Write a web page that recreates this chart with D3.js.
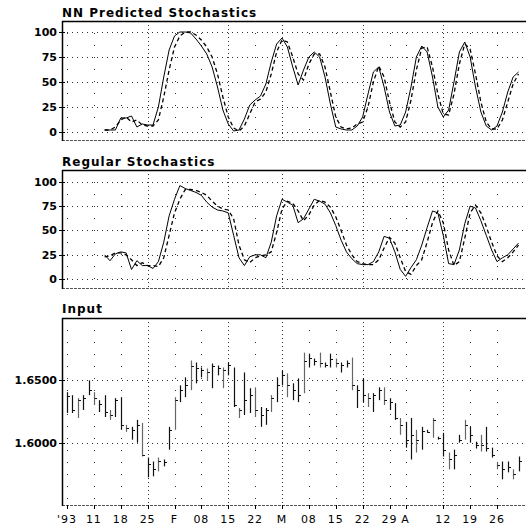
<!DOCTYPE html>
<html>
<head>
<meta charset="utf-8">
<title>NN Predicted Stochastics</title>
<style>
body { margin: 0; background: #fff; }
text { font-family: "DejaVu Sans", sans-serif; fill: #000; }
.title { font-size: 12px; font-weight: bold; letter-spacing: 1px; }
.ylab { font-size: 11px; font-weight: bold; }
.xlab { font-size: 11px; letter-spacing: 1px; }
.grid line { stroke: #333; stroke-width: 1; }
</style>
</head>
<body>
<svg width="526" height="527"></svg>
<script src="https://d3js.org/d3.v7.min.js"></script>
<script>

// trading day index, 0 = Mon 4 Jan 1993
var tickDays   = [0, 5, 10, 15, 20, 25, 30, 35, 40, 45, 50, 55, 60, 63, 70, 75, 80];
var tickLabels = ["'93", "11", "18", "25", "F", "08", "15", "22", "M", "08", "15", "22", "29", "A", "12", "19", "26"];
var majorDays  = [15, 30, 40, 55, 70];

var stochTicks = [0, 25, 50, 75, 100];
var priceTicks = [1.60, 1.65];

// stochastic series start at day 7
var stochStart = 7;
var nnActual = [2, 2, 2, 14, 14, 16, 5, 8, 7, 7, 25, 55, 82, 96, 100, 100, 99, 93, 86, 78,
  65, 45, 22, 8, 1, 2, 13, 27, 32, 36, 48, 70, 88, 94, 85, 65, 47, 62, 75, 80,
  75, 55, 28, 5, 3, 2, 2, 6, 15, 38, 60, 65, 45, 20, 6, 7, 20, 45, 75, 86,
  80, 55, 25, 15, 22, 50, 80, 90, 75, 45, 20, 6, 2, 6, 20, 40, 55, 60];
var nnPredicted = [2, 2, 5, 12, 15, 10, 12, 7, 6, 6, 12, 35, 62, 85, 96, 100, 100, 97, 92, 85,
  75, 58, 35, 15, 4, 1, 6, 18, 30, 33, 40, 58, 80, 92, 90, 75, 58, 52, 68, 78,
  78, 65, 40, 15, 5, 3, 4, 8, 10, 25, 50, 66, 55, 30, 10, 5, 10, 32, 62, 84,
  85, 65, 38, 18, 17, 38, 68, 88, 83, 58, 30, 10, 3, 3, 12, 30, 48, 58];
var regSolid = [25, 19, 26, 28, 27, 10, 19, 14, 14, 11, 18, 38, 65, 82, 96, 93, 91, 89, 86, 79,
  74, 71, 70, 68, 45, 22, 14, 23, 25, 25, 22, 38, 65, 82, 79, 76, 58, 62, 72, 82,
  80, 77, 68, 55, 40, 28, 21, 16, 15, 15, 18, 28, 44, 42, 28, 10, 3, 12, 20, 35,
  53, 70, 68, 45, 16, 15, 30, 57, 75, 73, 60, 45, 30, 18, 22, 25, 31, 37];
var regDashed = [23, 24, 27, 27, 25, 20, 14, 17, 14, 14, 13, 22, 45, 68, 82, 92, 92, 91, 89, 86,
  80, 75, 72, 71, 62, 35, 20, 17, 22, 24, 25, 28, 48, 72, 80, 78, 70, 60, 66, 76,
  81, 79, 74, 64, 50, 35, 25, 18, 16, 15, 15, 20, 32, 43, 37, 22, 8, 5, 14, 20,
  38, 58, 70, 58, 30, 14, 18, 42, 68, 76, 68, 54, 38, 24, 18, 22, 28, 35];

// daily bars from day 0
var highs = [1.6405, 1.6381, 1.6357, 1.6381, 1.6500, 1.6405, 1.6341, 1.6381, 1.6262, 1.6357,
  1.6365, 1.6143, 1.6127, 1.6183, 1.6159, 1.5881, 1.5849, 1.5881, 1.5865, 1.6127,
  1.6365, 1.6460, 1.6524, 1.6659, 1.6643, 1.6603, 1.6595, 1.6635, 1.6619, 1.6603,
  1.6643, 1.6603, 1.6278, 1.6563, 1.6437, 1.6444, 1.6286, 1.6278, 1.6381, 1.6524,
  1.6579, 1.6556, 1.6476, 1.6516, 1.6722, 1.6714, 1.6675, 1.6722, 1.6643, 1.6714,
  1.6675, 1.6643, 1.6659, 1.6683, 1.6460, 1.6516, 1.6397, 1.6397, 1.6444, 1.6444,
  1.6357, 1.6317, 1.6198, 1.6167, 1.6198, 1.6103, 1.6127, 1.6103, 1.6198, 1.6048,
  1.6079, 1.5921, 1.5944, 1.6063, 1.6183, 1.6127, 1.6008, 1.6063, 1.6127, 1.5960,
  1.5841, 1.5849, 1.5849, 1.5786, 1.5889];
var lows = [1.6238, 1.6238, 1.6198, 1.6262, 1.6381, 1.6302, 1.6246, 1.6206, 1.6183, 1.6206,
  1.6103, 1.6087, 1.6024, 1.6000, 1.5889, 1.5722, 1.5730, 1.5770, 1.5810, 1.5944,
  1.6103, 1.6325, 1.6365, 1.6421, 1.6476, 1.6524, 1.6500, 1.6437, 1.6540, 1.6437,
  1.6540, 1.6286, 1.6198, 1.6222, 1.6238, 1.6206, 1.6127, 1.6143, 1.6246, 1.6325,
  1.6460, 1.6365, 1.6341, 1.6325, 1.6397, 1.6603, 1.6619, 1.6603, 1.6603, 1.6603,
  1.6603, 1.6563, 1.6603, 1.6421, 1.6278, 1.6325, 1.6286, 1.6246, 1.6341, 1.6302,
  1.6262, 1.6183, 1.6063, 1.5960, 1.5865, 1.5921, 1.5944, 1.6079, 1.6040, 1.6024,
  1.5889, 1.5786, 1.5786, 1.6000, 1.6024, 1.6000, 1.5953, 1.5929, 1.5929, 1.5881,
  1.5786, 1.5706, 1.5762, 1.5706, 1.5770];
var closes = [1.6373, 1.6262, 1.6341, 1.6357, 1.6421, 1.6357, 1.6310, 1.6246, 1.6222, 1.6341,
  1.6143, 1.6119, 1.6103, 1.6143, 1.5905, 1.5825, 1.5786, 1.5849, 1.5841, 1.6103,
  1.6341, 1.6421, 1.6460, 1.6611, 1.6595, 1.6579, 1.6563, 1.6611, 1.6595, 1.6579,
  1.6619, 1.6302, 1.6262, 1.6341, 1.6381, 1.6262, 1.6222, 1.6262, 1.6357, 1.6460,
  1.6540, 1.6460, 1.6421, 1.6381, 1.6659, 1.6683, 1.6659, 1.6643, 1.6627, 1.6675,
  1.6643, 1.6619, 1.6643, 1.6460, 1.6421, 1.6381, 1.6357, 1.6381, 1.6421, 1.6341,
  1.6325, 1.6198, 1.6143, 1.6024, 1.6063, 1.6024, 1.6095, 1.6087, 1.6183, 1.6040,
  1.5944, 1.5865, 1.5905, 1.6024, 1.6143, 1.6063, 1.5984, 1.5984, 1.5960, 1.5905,
  1.5817, 1.5786, 1.5802, 1.5746, 1.5849];

var svg = d3.select("svg"),
    width = +svg.attr("width"),
    left = 62;

var x = d3.scaleLinear().domain([0, 80]).range([67, 497]);

var panels = [
  {title: "NN Predicted Stochastics", top: 21, bottom: 140, domain: [-8, 111], ticks: stochTicks, fmt: d3.format("d"), baseline: 17},
  {title: "Regular Stochastics", top: 170, bottom: 288, domain: [-9, 112], ticks: stochTicks, fmt: d3.format("d"), baseline: 166},
  {title: "Input", top: 318, bottom: 505, domain: [1.55, 1.70], ticks: priceTicks, fmt: d3.format(".4f"), baseline: 313}
];

panels.forEach(function(p) {
  p.y = d3.scaleLinear().domain(p.domain).range([p.bottom, p.top]);
  var g = svg.append("g");

  var grid = g.append("g").attr("class", "grid");
  grid.selectAll(".h").data(p.ticks).enter().append("line")
      .attr("x1", left).attr("x2", width)
      .attr("y1", function(d) { return Math.round(p.y(d)) + 0.5; })
      .attr("y2", function(d) { return Math.round(p.y(d)) + 0.5; })
      .attr("stroke-dasharray", "1,4");
  grid.selectAll(".v").data(tickDays).enter().append("line")
      .attr("x1", function(d) { return Math.round(x(d)) + 0.5; })
      .attr("x2", function(d) { return Math.round(x(d)) + 0.5; })
      .attr("y1", p.top).attr("y2", p.bottom)
      .attr("stroke-dasharray", function(d) { return majorDays.indexOf(d) >= 0 ? "1,3" : "1,11"; })
      .attr("stroke", function(d) { return majorDays.indexOf(d) >= 0 ? "#222" : "#777"; });

  // frame
  g.append("line").attr("x1", left).attr("x2", width).attr("y1", p.top + 0.5).attr("y2", p.top + 0.5)
      .attr("stroke", "#000").attr("stroke-width", 1.5);
  g.append("line").attr("x1", left).attr("x2", width).attr("y1", p.bottom + 0.5).attr("y2", p.bottom + 0.5)
      .attr("stroke", "#555").attr("stroke-dasharray", "3,1");
  g.append("line").attr("x1", left + 0.5).attr("x2", left + 0.5).attr("y1", p.top).attr("y2", p.bottom + 1)
      .attr("stroke", "#000").attr("stroke-width", 1.5);

  // y axis ticks and labels
  g.selectAll(".yt").data(p.ticks).enter().append("line")
      .attr("x1", left - 3).attr("x2", left + 3)
      .attr("y1", function(d) { return Math.round(p.y(d)) + 0.5; })
      .attr("y2", function(d) { return Math.round(p.y(d)) + 0.5; })
      .attr("stroke", "#000");
  g.selectAll(".yl").data(p.ticks).enter().append("text")
      .attr("class", "ylab")
      .attr("x", left - 5)
      .attr("y", function(d) { return p.y(d) + 4; })
      .attr("text-anchor", "end")
      .text(p.fmt);

  g.append("text").attr("class", "title").attr("x", left).attr("y", p.baseline).text(p.title);
});

function stochLine(y) {
  return d3.line()
      .x(function(d, i) { return x(i + stochStart); })
      .y(function(d) { return y(d); });
}

var nnPanel = panels[0], regPanel = panels[1], inPanel = panels[2];

svg.append("path").datum(nnActual)
    .attr("d", stochLine(nnPanel.y)).attr("fill", "none")
    .attr("stroke", "#000").attr("stroke-width", 1);
svg.append("path").datum(nnPredicted)
    .attr("d", stochLine(nnPanel.y)).attr("fill", "none")
    .attr("stroke", "#000").attr("stroke-width", 1.3).attr("stroke-dasharray", "4,3");

svg.append("path").datum(regSolid)
    .attr("d", stochLine(regPanel.y)).attr("fill", "none")
    .attr("stroke", "#000").attr("stroke-width", 1);
svg.append("path").datum(regDashed)
    .attr("d", stochLine(regPanel.y)).attr("fill", "none")
    .attr("stroke", "#000").attr("stroke-width", 1.3).attr("stroke-dasharray", "4,3");

// price bars
var bars = svg.append("g").selectAll("g")
    .data(highs)
    .enter().append("g");
bars.append("line")
    .attr("x1", function(d, i) { return Math.round(x(i)) + 0.5; })
    .attr("x2", function(d, i) { return Math.round(x(i)) + 0.5; })
    .attr("y1", function(d) { return inPanel.y(d); })
    .attr("y2", function(d, i) { return inPanel.y(lows[i]); })
    .attr("stroke", function(d, i) { return i % 3 == 2 ? "#666" : "#111"; })
    .attr("stroke-width", 1.2);
bars.append("line")
    .attr("x1", function(d, i) { return Math.round(x(i)) + 0.5; })
    .attr("x2", function(d, i) { return Math.round(x(i)) + 3; })
    .attr("y1", function(d, i) { return Math.round(inPanel.y(closes[i])) + 0.5; })
    .attr("y2", function(d, i) { return Math.round(inPanel.y(closes[i])) + 0.5; })
    .attr("stroke", "#111");

// x axis
svg.append("g").selectAll("line").data(tickDays).enter().append("line")
    .attr("x1", function(d) { return Math.round(x(d)) + 0.5; })
    .attr("x2", function(d) { return Math.round(x(d)) + 0.5; })
    .attr("y1", inPanel.bottom).attr("y2", inPanel.bottom + 4)
    .attr("stroke", "#000");
svg.append("g").selectAll("text").data(tickDays).enter().append("text")
    .attr("class", "xlab")
    .attr("x", function(d) { return x(d); })
    .attr("y", 523)
    .attr("text-anchor", "middle")
    .text(function(d, i) { return tickLabels[i]; });

</script>
</body>
</html>
